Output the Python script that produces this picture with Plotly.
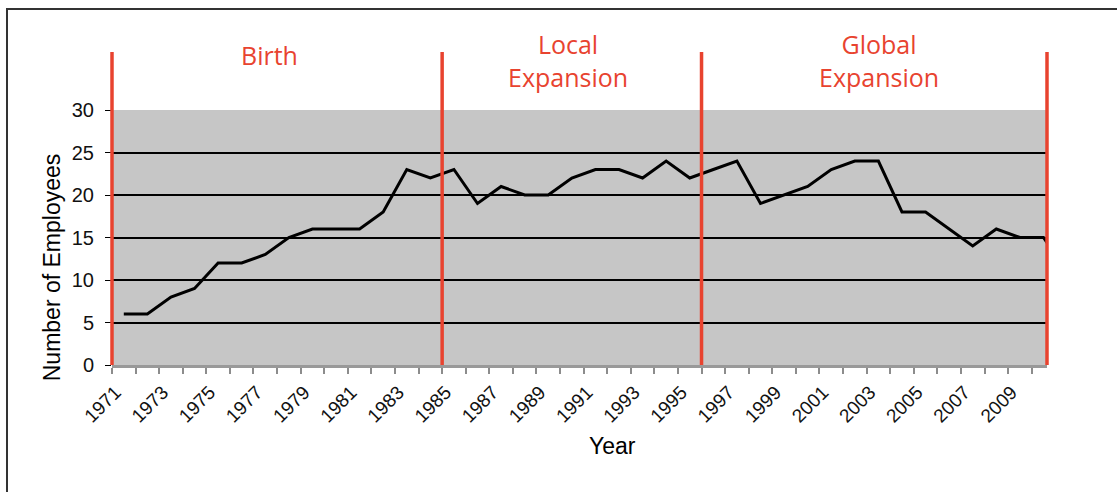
import plotly.graph_objects as go

# Employee headcount per year
years = list(range(1971, 2012))
employees = [6, 6, 8, 9, 12, 12, 13, 15, 16, 16,
             16, 18, 23, 22, 23, 19, 21, 20, 20, 22,
             23, 23, 22, 24, 22, 23, 24, 19, 20, 21,
             23, 24, 24, 18, 18, 16, 14, 16, 15, 15,
             11]

# Company phases (first and last year of each)
phase_names = ["Birth", "Local<br>Expansion", "Global<br>Expansion"]
phase_first = [1971, 1985, 1996]
phase_last = [1984, 1995, 2010]

tick_years = list(range(1971, 2010, 2))
x_range = [1970.5, 2010.15]

RED = "#E8432F"
FONT = "Liberation Sans, Arial, sans-serif"

fig = go.Figure()
fig.add_trace(go.Scatter(
    x=years, y=employees, mode="lines",
    line=dict(color="black", width=3),
    showlegend=False, hoverinfo="skip",
))


def to_paper(xv):
    return (xv - x_range[0]) / (x_range[1] - x_range[0])


shapes = []
annotations = []

# Outer frame
shapes.append(dict(type="rect", xref="paper", yref="paper",
                   x0=-0.1123, x1=2, y0=-2, y1=1.396,
                   line=dict(color="#333333", width=2), layer="below"))

# Phase divider lines
bounds = [f - 0.5 for f in phase_first] + [x_range[1]]
for b in bounds:
    px = min(max(to_paper(b), 0), 1)
    shapes.append(dict(type="line", xref="paper", yref="paper",
                       x0=px, x1=px, y0=0, y1=1.227,
                       line=dict(color=RED, width=3.5), layer="above"))

# Phase titles
title_shift = [-0.008, -0.004, 0.005]
for name, f, l, dx in zip(phase_names, phase_first, phase_last, title_shift):
    lo = f - 0.5
    hi = min(l + 0.5, x_range[1])
    two_lines = "<br>" in name
    annotations.append(dict(
        x=to_paper((lo + hi) / 2) + dx, y=1.195 if two_lines else 1.215,
        xref="paper", yref="paper", text=name, showarrow=False,
        xanchor="center", yanchor="middle",
        font=dict(family="Open Sans, sans-serif", size=25, color=RED),
    ))

# Axis titles
annotations.append(dict(x=0.535, y=-0.318, xref="paper", yref="paper",
                        text="Year", showarrow=False,
                        xanchor="center", yanchor="middle",
                        font=dict(family=FONT, size=23, color="black")))
annotations.append(dict(x=-0.064, y=0.384, xref="paper", yref="paper",
                        text="Number of Employees", showarrow=False,
                        textangle=-90, xanchor="center", yanchor="middle",
                        font=dict(family=FONT, size=23, color="black")))

fig.update_layout(
    width=1117, height=492,
    margin=dict(l=112, r=70, t=110, b=127),
    paper_bgcolor="white",
    plot_bgcolor="#C6C6C6",
    shapes=shapes,
    annotations=annotations,
    xaxis=dict(
        range=x_range,
        tickmode="array", tickvals=[y - 0.35 for y in tick_years],
        ticktext=[str(y) for y in tick_years],
        tickangle=-45, ticks="", ticklabelstandoff=6,
        tickfont=dict(family=FONT, size=19, color="#111111"),
        showgrid=False, zeroline=False,
        showline=True, linecolor="#999999", linewidth=2.5,
        minor=dict(tickmode="linear", tick0=1970.5, dtick=1,
                   ticks="outside", ticklen=6, tickwidth=1.5,
                   tickcolor="#8C8C8C", showgrid=False),
    ),
    yaxis=dict(
        range=[0, 30], tickmode="linear", tick0=0, dtick=5,
        ticks="outside", ticklen=6, tickcolor="black", tickwidth=1.2,
        ticklabelstandoff=7,
        tickfont=dict(family=FONT, size=20, color="#111111"),
        showgrid=True, gridcolor="black", gridwidth=1.5,
        zeroline=False, showline=False,
    ),
)

fig.write_html("out.html")
